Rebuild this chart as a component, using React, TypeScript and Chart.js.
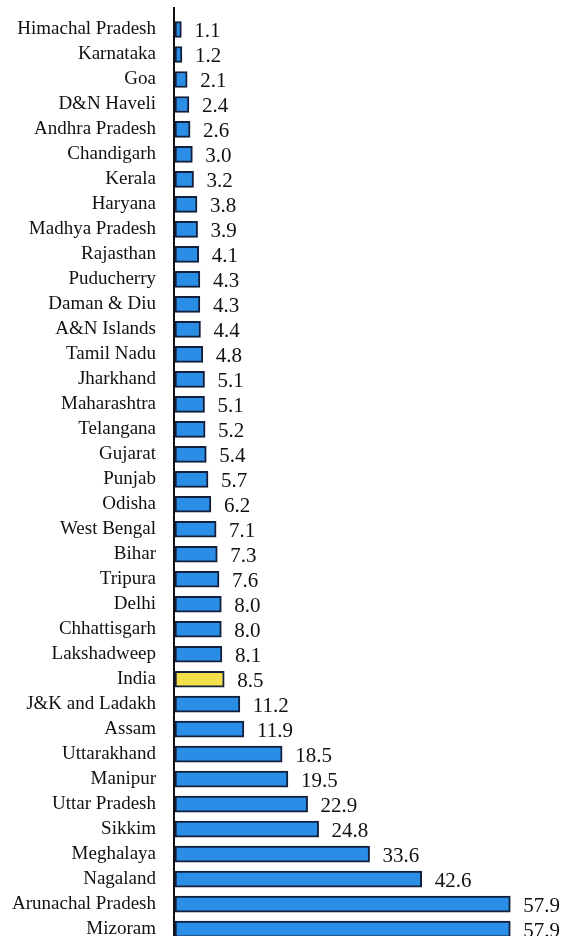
import React, { useEffect, useRef } from "react";
import { Chart, registerables } from "chart.js";

Chart.register(...registerables);

const categories: string[] = [
  "Himachal Pradesh", "Karnataka", "Goa", "D&N Haveli", "Andhra Pradesh", "Chandigarh",
  "Kerala", "Haryana", "Madhya Pradesh", "Rajasthan", "Puducherry", "Daman & Diu",
  "A&N Islands", "Tamil Nadu", "Jharkhand", "Maharashtra", "Telangana", "Gujarat",
  "Punjab", "Odisha", "West Bengal", "Bihar", "Tripura", "Delhi", "Chhattisgarh",
  "Lakshadweep", "India", "J&K and Ladakh", "Assam", "Uttarakhand", "Manipur",
  "Uttar Pradesh", "Sikkim", "Meghalaya", "Nagaland", "Arunachal Pradesh", "Mizoram",
];

const values: number[] = [
  1.1, 1.2, 2.1, 2.4, 2.6, 3.0, 3.2, 3.8, 3.9, 4.1, 4.3, 4.3, 4.4, 4.8, 5.1, 5.1,
  5.2, 5.4, 5.7, 6.2, 7.1, 7.3, 7.6, 8.0, 8.0, 8.1, 8.5, 11.2, 11.9, 18.5, 19.5,
  22.9, 24.8, 33.6, 42.6, 57.9, 57.9,
];

const highlight = "India";
const xMax = 67;

const BLUE = "#2a8de6";
const YELLOW = "#f3df4c";
const BORDER = "#13203d";

export default function App() {
  const ref = useRef<HTMLCanvasElement | null>(null);

  useEffect(() => {
    if (!ref.current) return;

    const valueLabels = {
      id: "valueLabels",
      afterDatasetsDraw(chart: any) {
        const ctx = chart.ctx;
        const meta = chart.getDatasetMeta(0);
        ctx.save();
        ctx.fillStyle = "#111";
        ctx.font = '21px "Liberation Serif", "DejaVu Serif", serif';
        ctx.textAlign = "left";
        ctx.textBaseline = "middle";
        meta.data.forEach((bar: any, i: number) => {
          ctx.fillText(values[i].toFixed(1), bar.x + 13, bar.y + 2);
        });
        ctx.restore();
      },
    };

    const axisLine = {
      id: "axisLine",
      afterDraw(chart: any) {
        const ctx = chart.ctx;
        const x = chart.scales.x.getPixelForValue(0) - 1;
        ctx.save();
        ctx.strokeStyle = "#111";
        ctx.lineWidth = 2;
        ctx.beginPath();
        ctx.moveTo(x, chart.chartArea.top - 10);
        ctx.lineTo(x, chart.chartArea.bottom + 10);
        ctx.stroke();
        ctx.restore();
      },
    };

    const chart = new Chart(ref.current, {
      type: "bar",
      data: {
        labels: categories,
        datasets: [
          {
            data: values,
            backgroundColor: categories.map((c) => (c === highlight ? YELLOW : BLUE)),
            borderColor: BORDER,
            borderWidth: 2,
            borderSkipped: false,
            barThickness: 16,
          },
        ],
      },
      options: {
        indexAxis: "y",
        animation: false,
        responsive: false,
        maintainAspectRatio: false,
        layout: { padding: { top: 17, right: 1, bottom: 0, left: 0 } },
        plugins: {
          legend: { display: false },
          tooltip: { enabled: false },
        },
        scales: {
          x: {
            display: false,
            min: 0,
            max: xMax,
          },
          y: {
            afterFit(scale: any) {
              scale.width = 175;
            },
            grid: { display: false, drawTicks: true, tickLength: 19 },
            border: { display: false },
            ticks: {
              color: "#111",
              padding: 0,
              autoSkip: false,
              font: { family: '"Liberation Serif", "DejaVu Serif", serif', size: 19 },
            },
          },
        },
      },
      plugins: [valueLabels, axisLine],
    });

    return () => chart.destroy();
  }, []);

  return (
    <div
      style={{
        position: "fixed",
        left: 0,
        top: 0,
        width: 564,
        height: 936,
        overflow: "hidden",
        background: "#fff",
      }}
    >
      <canvas ref={ref} width={564} height={953} style={{ display: "block" }} />
    </div>
  );
}
